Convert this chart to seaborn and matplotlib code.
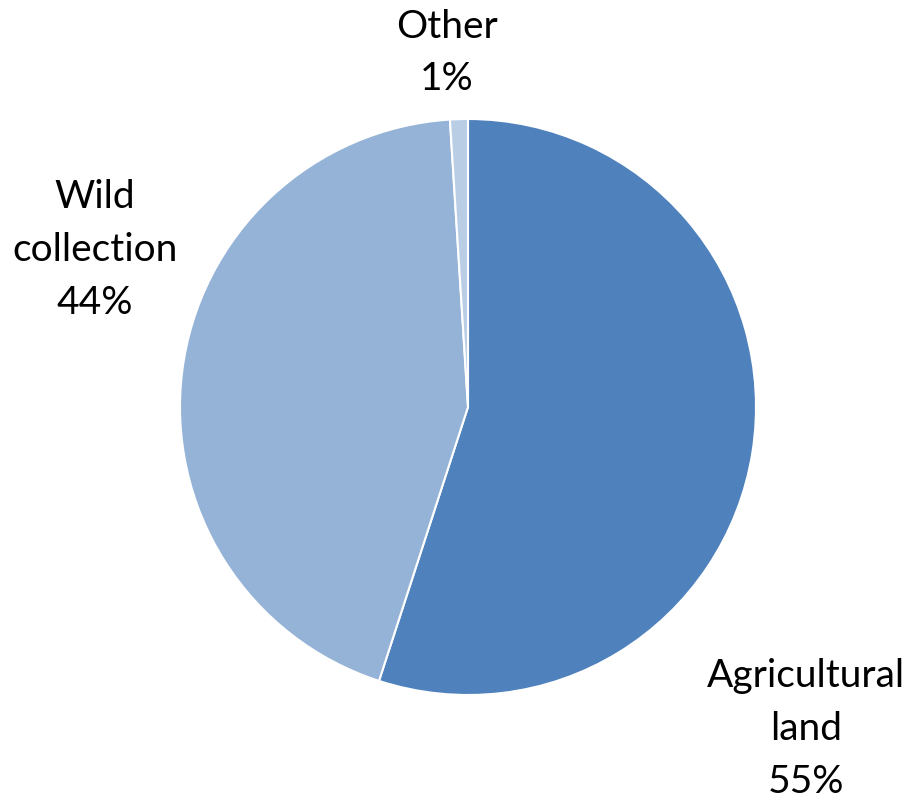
import matplotlib
matplotlib.use("Agg")
import matplotlib.pyplot as plt
import seaborn as sns

# Share of area by source
categories = ["Agricultural\nland", "Wild\ncollection", "Other"]
shares = [55, 44, 1]
colors = ["#4F81BD", "#95B3D7", "#B9CDE5"]

sns.set_theme(style="white")
plt.rcParams["font.family"] = ["Lato", "DejaVu Sans"]

W, H = 909, 801
fig = plt.figure(figsize=(W / 100, H / 100), dpi=100)
ax = fig.add_axes([0, 0, 1, 1])

ax.pie(
    shares,
    colors=colors,
    startangle=90,
    counterclock=False,
    radius=1.0,
    wedgeprops=dict(edgecolor="white", linewidth=1.5),
)

# pixel-true scaling: 288 px per unit radius, centre at (468, 407)
r_px, cx, cy = 288.0, 468.0, 407.0
ax.set_aspect("auto")
ax.set_xlim(-cx / r_px, (W - cx) / r_px)
ax.set_ylim(-(H - cy) / r_px, cy / r_px)
ax.axis("off")

label_pos = [(806, 729), (95, 250), (447, 53)]
for name, val, (px, py) in zip(categories, shares, label_pos):
    ax.text(px / W, 1 - py / H, f"{name}\n{val}%", transform=ax.transAxes,
            ha="center", va="center", fontsize=28, linespacing=1.58,
            color="black")

fig.savefig("out.png", dpi=100, facecolor="white")
